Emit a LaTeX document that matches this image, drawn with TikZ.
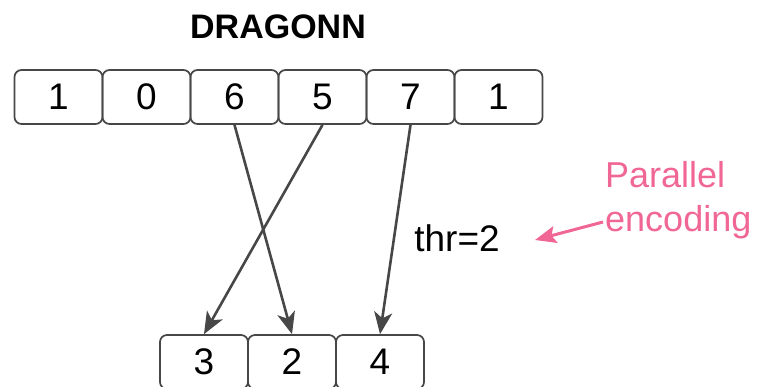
\documentclass[tikz,border=0pt]{standalone}
\usepackage{fontspec}
\setmainfont{Liberation Sans}
\usetikzlibrary{arrows.meta}
\definecolor{edge}{HTML}{474747}
\definecolor{accent}{HTML}{F06694}
\tikzset{
  cell/.style={draw=edge, line width=1.7pt, rounded corners=7pt, minimum width=88pt,
    minimum height=54pt, inner sep=0pt, font=\fontsize{37}{37}\selectfont},
  link/.style={draw=edge, line width=2.6pt, -{Stealth[length=22pt,width=18pt,inset=6pt]}},
  note/.style={text=accent, font=\fontsize{36}{44}\selectfont, align=left, anchor=base west, inner sep=0pt},
  pointer/.style={draw=accent, line width=3pt, -{Stealth[length=21pt,width=17pt,inset=4pt]}}
}
\begin{document}
\begin{tikzpicture}[x=1pt,y=-1pt]
\useasboundingbox (0,0) rectangle (760,387);
\node[font=\bfseries\fontsize{34}{34}\selectfont, anchor=base, inner sep=0pt] (title) at (278,39) {DRAGONN};
% input sequence
\node[cell] (a1) at (58.5,97) {1};
\node[cell] (a2) at (146.5,97) {0};
\node[cell] (a3) at (234.5,97) {6};
\node[cell] (a4) at (322.5,97) {5};
\node[cell] (a5) at (410.5,97) {7};
\node[cell] (a6) at (498.5,97) {1};
% encoded output
\node[cell] (b1) at (204,362) {3};
\node[cell] (b2) at (292,362) {2};
\node[cell] (b3) at (380,362) {4};
% connections
\draw[link] (a3.south) -- (b2.north);
\draw[link] (a4.south) -- (b1.north);
\draw[link] (a5.south) -- (b3.north);
\node[anchor=base, inner sep=0pt, font=\fontsize{37}{37}\selectfont] (thr) at (457,252) {thr=2};
\node[note] (enc) at (605,232) {Parallel\\encoding};
\coordinate (p0) at (603,222);
\coordinate (p1) at (535,240);
\draw[pointer] (p0) -- (p1);
\end{tikzpicture}
\end{document}
